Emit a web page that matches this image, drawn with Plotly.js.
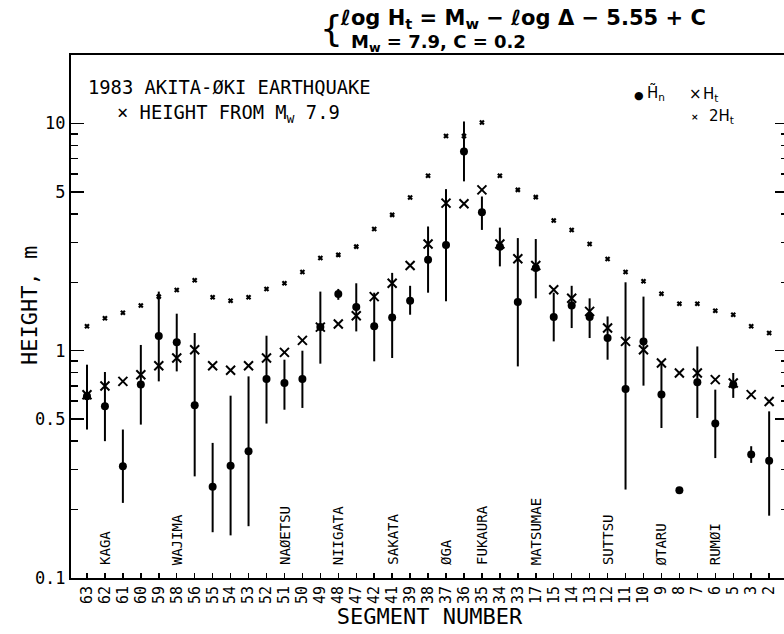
<!DOCTYPE html>
<html>
<head>
<meta charset="utf-8">
<script src="https://cdn.plot.ly/plotly-3.0.1.min.js"></script>
<style>
html, body { margin:0; padding:0; overflow:hidden; background:#fff; }
#chart { width:790px; height:634px; }
</style>
</head>
<body>
<div id="chart"></div>
<script>
// Segment numbers along the coast (left to right)
const segments = ["63","62","61","60","59","58","56","55","54","53","52","51","50","49","48","47","42","41","39","38","37","36","35","34","33","17","15","14","13","12","11","10","9","8","7","6","5","3","2"];

// Observed tsunami height H~n (m) and its range
const hn     = [0.63,0.57,0.31,0.71,1.16,1.09,0.575,0.252,0.312,0.361,0.751,0.721,0.751,1.27,1.775,1.556,1.28,1.40,1.66,2.51,2.92,7.52,4.07,2.87,1.64,2.31,1.406,1.58,1.406,1.137,0.679,1.099,0.641,0.243,0.726,0.478,0.709,0.349,0.328];
const hnHigh = [0.868,0.806,0.45,1.06,1.82,1.455,1.196,0.393,0.634,0.771,1.164,0.913,1.0,1.82,1.87,1.98,1.80,2.20,1.93,3.52,5.14,10.2,4.77,3.48,3.13,3.10,1.80,1.93,1.70,1.415,2.0,1.73,0.883,0.243,1.044,0.674,0.798,0.38,0.541];
const hnLow  = [0.45,0.40,0.214,0.473,0.733,0.811,0.28,0.159,0.154,0.169,0.478,0.55,0.56,0.877,1.675,1.216,0.898,0.929,1.44,1.80,1.65,5.56,3.40,2.35,0.853,1.70,1.099,1.258,1.137,0.913,0.245,0.702,0.457,0.243,0.506,0.337,0.62,0.321,0.188];

// Height from Mw 7.9 (Ht) and twice that (2Ht)
const ht  = [0.64,0.70,0.733,0.784,0.859,0.929,1.01,0.859,0.82,0.859,0.929,0.983,1.11,1.27,1.31,1.425,1.73,1.98,2.37,2.95,4.46,4.43,5.10,2.95,2.54,2.37,1.855,1.70,1.49,1.258,1.099,1.01,0.883,0.798,0.798,0.746,0.721,0.641,0.598];
const ht2 = [1.28,1.39,1.47,1.58,1.73,1.85,2.04,1.72,1.66,1.72,1.87,1.98,2.22,2.56,2.64,2.87,3.43,3.96,4.72,5.88,8.81,8.81,10.1,5.88,5.10,4.74,3.74,3.40,2.95,2.53,2.22,2.02,1.78,1.61,1.61,1.50,1.44,1.28,1.196];

// Place names marked along the axis
const placeNames    = ["KAGA","WAJIMA","NAØETSU","NIIGATA","SAKATA","ØGA","FUKAURA","MATSUMAE","SUTTSU","ØTARU","RUMØI"];
const placeSegments = ["62","58","51","48","41","37","35","17","12","9","6"];

// Y axis ticks
const yMajor = [0.1,0.5,1,5,10];
const yMajorText = ["0.1","0.5","1","5","10"];
const yMinor = [0.2,0.3,0.4,0.6,0.7,0.8,0.9,2,3,4,6,7,8,9];

const MONO = "DejaVu Sans Mono";
const errPlus  = hn.map((v,i)=> hnHigh[i]-v);
const errMinus = hn.map((v,i)=> v-hnLow[i]);

const traces = [
  {
    type:'scatter', mode:'markers', x:segments, y:hn, name:'Hn',
    marker:{symbol:'circle', size:8, color:'#000'},
    error_y:{type:'data', symmetric:false, array:errPlus, arrayminus:errMinus,
             color:'#000', thickness:2, width:0}
  },
  {
    type:'scatter', mode:'markers', x:segments, y:ht, name:'Ht',
    marker:{symbol:'x-thin-open', size:9, color:'#000', line:{color:'#000', width:2}}
  },
  {
    type:'scatter', mode:'markers', x:segments, y:ht2, name:'2Ht',
    marker:{symbol:'x-thin-open', size:4, color:'#000', line:{color:'#000', width:2.2}}
  }
];

const L = 71, R = 788, T = 55, B = 578;
const px = x => (x - L)/(R - L);
const py = y => (B - y)/(B - T);

const annotations = [];
placeNames.forEach((n,i)=>{
  annotations.push({
    text:n, x:segments.indexOf(placeSegments[i]), xref:'x', y:py(567), yref:'paper',
    xanchor:'center', yanchor:'bottom', textangle:-90, showarrow:false,
    font:{family:MONO, size:14, color:'#000'}
  });
});
annotations.push(
  {text:'HEIGHT, m', x:px(29), y:py(306), xref:'paper', yref:'paper', textangle:-90,
   xanchor:'center', yanchor:'middle', showarrow:false, font:{family:MONO, size:22, color:'#000'}},
  {text:'1983 AKITA-ØKI EARTHQUAKE', x:px(86), y:py(87), xref:'paper', yref:'paper',
   xanchor:'left', yanchor:'middle', showarrow:false, font:{family:MONO, size:18.8, color:'#000'}},
  {text:'× HEIGHT FROM M<sub>w</sub> 7.9', x:px(115), y:py(114), xref:'paper', yref:'paper',
   xanchor:'left', yanchor:'middle', showarrow:false, font:{family:MONO, size:18.8, color:'#000'}},
  {text:'●', x:px(632), y:py(95), xref:'paper', yref:'paper', xanchor:'left', yanchor:'middle',
   showarrow:false, font:{family:'DejaVu Sans', size:11, color:'#000'}},
  {text:'H\u0303<sub>n</sub>', x:px(645), y:py(93), xref:'paper', yref:'paper', xanchor:'left', yanchor:'middle',
   showarrow:false, font:{family:'DejaVu Sans', size:15, color:'#000'}},
  {text:'×', x:px(687), y:py(94), xref:'paper', yref:'paper', xanchor:'left', yanchor:'middle',
   showarrow:false, font:{family:'DejaVu Sans', size:15, color:'#000'}},
  {text:'H<sub>t</sub>', x:px(701), y:py(94), xref:'paper', yref:'paper', xanchor:'left', yanchor:'middle',
   showarrow:false, font:{family:'DejaVu Sans', size:15, color:'#000'}},
  {text:'<b>×</b>', x:px(689), y:py(117), xref:'paper', yref:'paper', xanchor:'left', yanchor:'middle',
   showarrow:false, font:{family:'DejaVu Sans', size:9, color:'#000'}},
  {text:'2H<sub>t</sub>', x:px(707), y:py(117), xref:'paper', yref:'paper', xanchor:'left', yanchor:'middle',
   showarrow:false, font:{family:'DejaVu Sans', size:15, color:'#000'}},
  {text:'{', x:px(318), y:py(28), xref:'paper', yref:'paper', xanchor:'left', yanchor:'middle',
   showarrow:false, font:{family:'DejaVu Sans', size:36, color:'#000'}},
  {text:'<b>ℓog H<sub>t</sub> = M<sub>w</sub> − ℓog Δ − 5.55 + C</b>', x:px(708), y:py(19), xref:'paper', yref:'paper',
   xanchor:'right', yanchor:'middle', showarrow:false, font:{family:'DejaVu Sans', size:21, color:'#000'}},
  {text:'<b>M<sub>w</sub> = 7.9, C = 0.2</b>', x:px(528), y:py(43), xref:'paper', yref:'paper',
   xanchor:'right', yanchor:'middle', showarrow:false, font:{family:'DejaVu Sans', size:18, color:'#000'}}
);

const layout = {
  width:790, height:634,
  margin:{l:L, r:790-R, t:T, b:634-B, pad:0},
  paper_bgcolor:'#fff', plot_bgcolor:'#fff',
  showlegend:false,
  font:{family:MONO, color:'#000'},
  xaxis:{
    type:'category', range:[-0.89, 39.05],
    tickmode:'array', tickvals:segments, ticktext:segments,
    showgrid:false, zeroline:false,
    showline:true, linecolor:'#000', linewidth:2, mirror:true,
    ticks:'inside', ticklen:5, tickwidth:1.5, tickcolor:'#000',
    tickangle:-90, tickfont:{family:MONO, size:15, color:'#000'},
    title:{text:'SEGMENT NUMBER', font:{family:MONO, size:22, color:'#000'}, standoff:6}
  },
  yaxis:{
    type:'log', range:[-1, Math.log10(20)],
    showgrid:false, zeroline:false,
    showline:true, linecolor:'#000', linewidth:2, mirror:'allticks',
    tickmode:'array', tickvals:yMajor, ticktext:yMajorText,
    ticks:'inside', ticklen:13, tickwidth:1.5, tickcolor:'#000',
    tickfont:{family:MONO, size:17, color:'#000'},
    minor:{tickmode:'array', tickvals:yMinor, ticks:'inside', ticklen:7, tickwidth:1.5, tickcolor:'#000', showgrid:false}
  },
  annotations:annotations
};

Plotly.newPlot('chart', traces, layout, {staticPlot:true, displayModeBar:false});
</script>
</body>
</html>
